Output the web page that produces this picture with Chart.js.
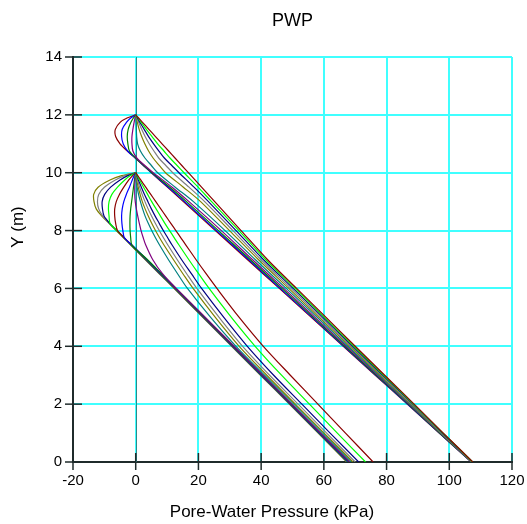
<!DOCTYPE html>
<html>
<head>
<meta charset="utf-8">
<script src="https://cdn.jsdelivr.net/npm/chart.js@4.4.0/dist/chart.umd.min.js"></script>
<style>
  html, body { margin: 0; padding: 0; background: #ffffff; }
  #wrap { width: 527px; height: 524px; }
</style>
</head>
<body>
<div id="wrap"><canvas id="pwpChart" width="527" height="524"></canvas></div>
<script>
// axis ticks and labels
const xTicks = [-20, 0, 20, 40, 60, 80, 100, 120];
const yTicks = [0, 2, 4, 6, 8, 10, 12, 14];
const chartTitle = 'PWP';
const xTitle = 'Pore-Water Pressure (kPa)';
const yTitle = 'Y (m)';

// colour cycle of the profiles
const lineColors = ['#8B0000', '#00FF00', '#000080', '#808080', '#808000', '#008080', '#800080', '#008000', '#0000FF'];

// upper set of profiles (surface at Y = 12 m)
const depthUpper = [12, 11.9, 11.75, 11.5, 11.25, 11.0, 10.75, 10.5, 10.25, 10, 9.5, 9, 8, 7, 6, 5, 4, 3, 2, 1, 0];
const pwpUpper = [
  [0, 0.84, 2.1, 4.2, 6.3, 8.4, 10.5, 12.6, 14.7, 16.8, 21.0, 25.2, 33.6, 42.0, 51.3, 60.7, 70.0, 79.4, 88.8, 98.1, 107.5],
  [0, 0.7, 1.7, 3.4, 5.2, 7.0, 9.0, 11.0, 13.2, 15.4, 19.9, 24.2, 32.9, 41.4, 50.8, 60.2, 69.6, 79.1, 88.6, 98.0, 107.45],
  [0, 0.5, 1.3, 2.7, 4.1, 5.7, 7.4, 9.2, 11.5, 13.8, 18.6, 23.2, 32.0, 40.7, 50.2, 59.7, 69.2, 78.8, 88.4, 97.8, 107.4],
  [0, 0.35, 0.9, 1.9, 3.0, 4.3, 5.8, 7.4, 9.6, 11.8, 17.0, 22.0, 31.0, 39.9, 49.5, 59.1, 68.7, 78.4, 88.1, 97.6, 107.3],
  [0, 0.2, 0.5, 1.1, 1.9, 2.9, 4.1, 5.6, 7.5, 9.5, 15.2, 20.7, 29.9, 39.1, 48.8, 58.5, 68.3, 78.0, 87.8, 97.4, 107.25],
  [0, 0.05, 0.1, 0.2, 0.3, 0.6, 1.5, 3.0, 5.0, 7.0, 12.6, 18.4, 28.5, 38.1, 48.0, 57.9, 67.7, 77.6, 87.5, 97.3, 107.2],
  [0, -0.2, -0.5, -0.9, -1.2, -1.2, -0.9, 0.4, 2.9, 5.6, 11.6, 17.0, 27.3, 37.2, 47.2, 57.2, 67.2, 77.2, 87.2, 97.1, 107.15],
  [0, -0.7, -1.5, -2.4, -2.7, -2.5, -2.0, 0.1, 2.6, 5.2, 10.9, 16.2, 26.4, 36.5, 46.6, 56.7, 66.7, 76.8, 86.9, 96.9, 107.1],
  [0, -1.5, -2.9, -4.3, -4.5, -4.0, -2.6, 0.0, 2.5, 5.05, 10.4, 15.6, 25.8, 36.0, 46.1, 56.3, 66.4, 76.6, 86.7, 96.85, 107.05],
  [0, -2.6, -4.9, -6.5, -6.4, -5.0, -2.7, -0.1, 2.45, 5.0, 10.1, 15.2, 25.4, 35.6, 45.8, 56.0, 66.2, 76.4, 86.6, 96.8, 107.0]
];

// lower set of profiles (surface at Y = 10 m)
const depthLower = [10, 9.9, 9.75, 9.5, 9.25, 9.0, 8.75, 8.5, 8.25, 8.0, 7.75, 7.5, 7.0, 6.5, 6.0, 5, 4, 3, 2, 1, 0];
const pwpLower = [
  [0, 0.65, 1.6, 3.2, 4.8, 6.4, 8.0, 9.6, 11.2, 12.8, 14.4, 16.0, 19.2, 22.5, 25.9, 33.0, 40.7, 49.3, 58.1, 66.9, 75.7],
  [0, 0.45, 1.2, 2.5, 3.8, 5.1, 6.5, 7.9, 9.3, 10.8, 12.3, 13.8, 16.9, 20.1, 23.4, 30.5, 38.1, 46.5, 55.4, 64.3, 73.3],
  [0, 0.3, 0.85, 1.8, 2.8, 3.9, 5.0, 6.2, 7.5, 8.8, 10.2, 11.6, 14.6, 17.8, 21.0, 28.1, 35.6, 44.0, 53.0, 62.0, 71.1],
  [0, 0.18, 0.55, 1.25, 2.05, 2.95, 3.95, 5.05, 6.25, 7.5, 8.85, 10.25, 13.2, 16.3, 19.5, 26.6, 34.1, 42.7, 51.8, 60.9, 70.0],
  [0, 0.1, 0.3, 0.8, 1.4, 2.1, 3.0, 4.0, 5.1, 6.3, 7.6, 9.0, 12.0, 15.1, 18.3, 25.4, 33.0, 41.8, 50.9, 60.1, 69.3],
  [0, 0.05, 0.15, 0.45, 0.9, 1.5, 2.2, 3.0, 4.0, 5.1, 6.3, 7.6, 10.4, 13.4, 16.5, 23.9, 32.0, 41.1, 50.4, 59.6, 68.8],
  [0, -0.1, -0.2, -0.3, -0.3, -0.15, 0.2, 0.65, 1.15, 1.7, 2.4, 3.2, 5.4, 8.6, 12.9, 22.2, 31.4, 40.6, 49.8, 59.0, 68.3],
  [0, -0.2, -0.4, -0.7, -1.0, -1.3, -1.6, -1.8, -1.85, -1.8, -1.6, -1.2, 3.7, 8.3, 12.9, 22.1, 31.3, 40.5, 49.7, 58.9, 68.1],
  [0, -0.5, -1.1, -2.0, -3.0, -3.8, -4.3, -4.5, -4.4, -4.1, -3.6, -1.2, 3.5, 8.1, 12.7, 21.9, 31.1, 40.3, 49.5, 58.7, 67.9],
  [0, -1.0, -2.2, -3.8, -5.2, -6.2, -6.7, -6.7, -6.4, -5.8, -3.6, -1.3, 3.4, 8.0, 12.6, 21.8, 31.0, 40.2, 49.4, 58.6, 67.8],
  [0, -1.7, -3.5, -5.8, -7.6, -8.5, -8.7, -8.5, -8.2, -6.0, -3.7, -1.4, 3.3, 7.9, 12.5, 21.7, 30.9, 40.1, 49.3, 58.5, 67.7],
  [0, -2.5, -5.0, -8.0, -9.9, -10.7, -10.6, -10.1, -8.3, -6.0, -3.7, -1.4, 3.2, 7.8, 12.4, 21.6, 30.8, 40.0, 49.2, 58.4, 67.6],
  [0, -3.5, -6.5, -10.0, -11.8, -12.2, -11.8, -10.5, -8.4, -6.1, -3.8, -1.5, 3.1, 7.7, 12.3, 21.5, 30.7, 39.9, 49.1, 58.3, 67.4],
  [0, -4.5, -8.2, -12.0, -13.4, -13.3, -12.6, -10.8, -8.5, -6.2, -3.9, -1.6, 3.0, 7.6, 12.2, 21.4, 30.6, 39.8, 49.0, 58.2, 67.3]
];

const axisColor = '#1f2b2b';
const gridColor = '#40FFFF';
const fontFamily = "'Liberation Sans', Arial, sans-serif";

function buildDatasets(depths, profiles) {
    return profiles.map((row, i) => ({
        data: row.map((x, k) => ({ x: x, y: depths[k] })),
        borderColor: lineColors[i % lineColors.length],
        borderWidth: 1.2,
        pointRadius: 0,
        showLine: true,
        fill: false,
        tension: 0.3
    }));
}

// titles, the x = 0 line and the crossing tick marks
const decorPlugin = {
    id: 'decor',
    beforeDatasetsDraw(chart) {
        const ctx = chart.ctx;
        const area = chart.chartArea;
        const x0 = Math.round(chart.scales.x.getPixelForValue(0)) + 0.5;
        ctx.save();
        ctx.strokeStyle = '#2a8a8a';
        ctx.lineWidth = 1;
        ctx.beginPath();
        ctx.moveTo(x0, area.top);
        ctx.lineTo(x0, area.bottom);
        ctx.stroke();
        ctx.restore();
    },
    afterDraw(chart) {
        const ctx = chart.ctx;
        const area = chart.chartArea;
        const xs = chart.scales.x, ys = chart.scales.y;
        ctx.save();
        ctx.strokeStyle = axisColor;
        ctx.lineWidth = 1.5;
        xTicks.forEach(v => {
            const px = xs.getPixelForValue(v);
            ctx.beginPath();
            ctx.moveTo(px, area.bottom - 9);
            ctx.lineTo(px, area.bottom + 8);
            ctx.stroke();
        });
        yTicks.forEach(v => {
            const py = ys.getPixelForValue(v);
            ctx.beginPath();
            ctx.moveTo(area.left - 8, py);
            ctx.lineTo(area.left + 9, py);
            ctx.stroke();
        });

        ctx.fillStyle = '#000000';
        ctx.textAlign = 'center';
        ctx.textBaseline = 'middle';
        ctx.font = '18px ' + fontFamily;
        ctx.fillText(chartTitle, (area.left + area.right) / 2, 21);
        ctx.font = '17px ' + fontFamily;
        ctx.fillText(xTitle, 272, 512);
        ctx.translate(18, 227);
        ctx.rotate(-Math.PI / 2);
        ctx.fillText(yTitle, 0, 0);
        ctx.restore();
    }
};

const ctx = document.getElementById('pwpChart');
new Chart(ctx, {
    type: 'scatter',
    data: {
        datasets: buildDatasets(depthUpper, pwpUpper).concat(buildDatasets(depthLower, pwpLower))
    },
    options: {
        responsive: false,
        animation: false,
        layout: { padding: { top: 57, right: 15, bottom: 0, left: 0 } },
        plugins: {
            legend: { display: false },
            title: { display: false },
            tooltip: { enabled: false }
        },
        scales: {
            x: {
                type: 'linear',
                min: -20,
                max: 120,
                afterBuildTicks: s => { s.ticks = xTicks.map(v => ({ value: v })); },
                afterFit: s => { s.height = 62; },
                ticks: {
                    color: '#000000',
                    font: { family: fontFamily, size: 15 },
                    padding: 2,
                    maxRotation: 0,
                    autoSkip: false
                },
                grid: { color: gridColor, lineWidth: 2, tickLength: 8, tickColor: 'rgba(0,0,0,0)' },
                border: { display: true, color: axisColor, width: 2 }
            },
            y: {
                type: 'linear',
                min: 0,
                max: 14,
                afterBuildTicks: s => { s.ticks = yTicks.map(v => ({ value: v })); },
                afterFit: s => { s.width = 73; },
                ticks: {
                    color: '#000000',
                    font: { family: fontFamily, size: 15 },
                    padding: 3,
                    autoSkip: false
                },
                grid: { color: gridColor, lineWidth: 2, tickLength: 8, tickColor: 'rgba(0,0,0,0)' },
                border: { display: true, color: axisColor, width: 2 }
            }
        }
    },
    plugins: [decorPlugin]
});
</script>
</body>
</html>
